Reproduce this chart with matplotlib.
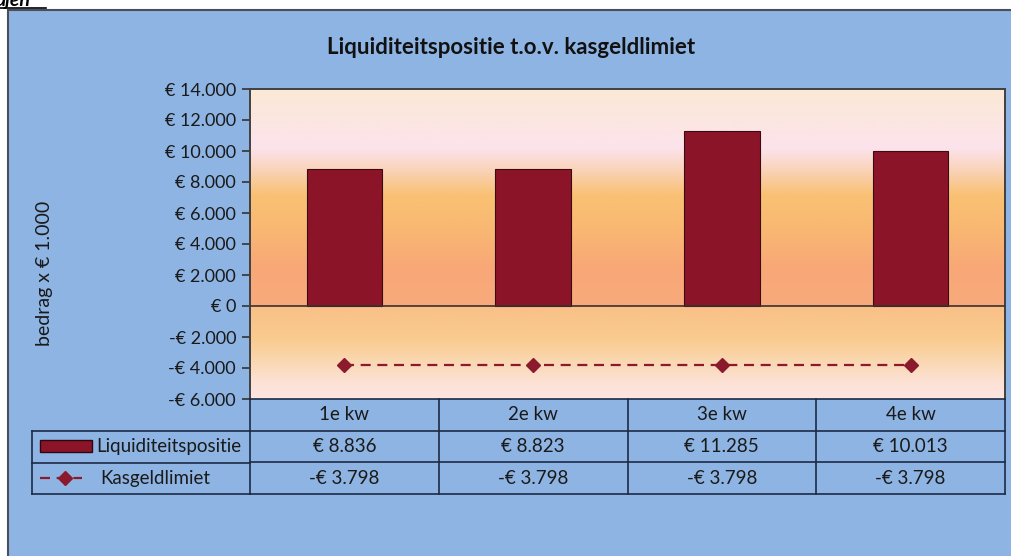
import numpy as np
import matplotlib
matplotlib.use("Agg")
import matplotlib.pyplot as plt
from matplotlib.colors import LinearSegmentedColormap
from matplotlib.patches import Rectangle
from matplotlib.lines import Line2D

# ---------------- data ----------------
categories = ["1e kw", "2e kw", "3e kw", "4e kw"]
liquiditeit = [8836, 8823, 11285, 10013]
kasgeld = [-3798, -3798, -3798, -3798]
series_names = ["Liquiditeitspositie", "Kasgeldlimiet"]
y_ticks = [-6000, -4000, -2000, 0, 2000, 4000, 6000, 8000, 10000, 12000, 14000]

def euro(v):
    s = f"{abs(v):,}".replace(",", ".")
    return ("-€ " if v < 0 else "€ ") + s

# ---------------- style ----------------
FONT = ["Lato", "DejaVu Sans"]
plt.rcParams["font.family"] = FONT
BLUE = "#8EB4E3"
BAR = "#8C1428"
LINE = "#8B1A2D"
GRID = "#1C2A44"
TXT = "#1A1A1A"
FS = 13.5

W, H = 1011, 556
fig = plt.figure(figsize=(W / 100, H / 100), dpi=100)
fig.patch.set_facecolor("white")

def fx(px):
    return px / W

def fy(py):
    return 1 - py / H

# chart background
bg = fig.add_axes([0, 0, 1, 1])
bg.set_xlim(0, W)
bg.set_ylim(H, 0)
bg.axis("off")
bg.add_patch(Rectangle((8, 10), W, H, facecolor=BLUE, edgecolor="#4A4F58", lw=1.5))
bg.text(-4, 6, "ajen", fontsize=14, style="italic", fontweight="bold",
        color="black", va="baseline", ha="left")
bg.plot([0, 46], [8, 8], color="black", lw=1.2)

# ---------------- plot area ----------------
L, R, T, B = 250, 1005, 89, 399
ax = fig.add_axes([fx(L), fy(B), fx(R) - fx(L), fy(T) - fy(B)])

upper = LinearSegmentedColormap.from_list("up", [
    (0.00, "#FBE9D5"), (0.15, "#FCE6E2"), (0.27, "#FCE3EC"), (0.37, "#FAD3BA"),
    (0.49, "#F9C173"), (0.63, "#F9B972"), (0.82, "#F8A877"), (1.00, "#F9AA7C")])
lower = LinearSegmentedColormap.from_list("lo", [
    (0.00, "#F9C088"), (0.35, "#F9CB8E"), (0.60, "#FAD8B2"), (0.80, "#FCE1D3"),
    (1.00, "#FDE5E2")])
grad = np.linspace(0, 1, 256).reshape(-1, 1)
ax.imshow(grad, cmap=upper, extent=(-0.5, 3.5, 0, 14000), aspect="auto",
          origin="upper", zorder=0, interpolation="bilinear")
ax.imshow(grad, cmap=lower, extent=(-0.5, 3.5, -6000, 0), aspect="auto",
          origin="upper", zorder=0, interpolation="bilinear")
ax.set_xlim(-0.5, 3.5)
ax.set_ylim(-6000, 14000)

x = np.arange(len(categories))
ax.bar(x, liquiditeit, width=0.4, color=BAR, edgecolor="#3A0B12", lw=0.8, zorder=2)
ax.axhline(0, color="#3A3030", lw=1.2, zorder=3)
ax.plot(x, kasgeld, color=LINE, lw=1.6, ls=(0, (4.5, 3.0)), marker="D",
        markersize=7, markerfacecolor=LINE, markeredgecolor=LINE, zorder=4)

ax.set_yticks(y_ticks)
ax.set_yticklabels([euro(v) for v in y_ticks], fontsize=13, color=TXT)
ax.set_xticks([])
ax.tick_params(axis="y", direction="out", length=6, width=1.2, color="#333333", pad=4)
for side in ["left", "top", "right"]:
    ax.spines[side].set_color("#404040")
    ax.spines[side].set_linewidth(1.4)
ax.spines["bottom"].set_visible(False)

fig.text(fx(45), fy(273), "bedrag x € 1.000", rotation=90, fontsize=14,
         color=TXT, ha="center", va="center")
fig.text(fx(511), fy(48), "Liquiditeitspositie t.o.v. kasgeldlimiet",
         fontsize=16, fontweight="bold", color="#111111", ha="center", va="center")

# ---------------- data table ----------------
TB = 494
tax = fig.add_axes([fx(L), fy(TB), fx(R) - fx(L), fy(B) - fy(TB)], sharex=ax)
tax.set_ylim(3, 0)
tax.axis("off")
lw = 1.2
for yy in (0, 1, 2, 3):
    tax.plot([-0.5, 3.5], [yy, yy], color=GRID, lw=lw, clip_on=False)
for xx in np.arange(-0.5, len(categories), 1.0):
    tax.plot([xx, xx], [0, 3], color=GRID, lw=lw, clip_on=False)
for i, c in enumerate(categories):
    tax.text(i, 0.5, c, ha="center", va="center", fontsize=FS, color=TXT)
    tax.text(i, 1.5, euro(liquiditeit[i]), ha="center", va="center", fontsize=FS, color=TXT)
    tax.text(i, 2.5, euro(kasgeld[i]), ha="center", va="center", fontsize=FS, color=TXT)

# legend column
LL = 32
lax = fig.add_axes([fx(LL), fy(TB), fx(L) - fx(LL), fy(431) - fy(TB)])
lax.set_xlim(0, L - LL)
lax.set_ylim(2, 0)
lax.axis("off")
for yy in (0, 1, 2):
    lax.plot([0, L - LL], [yy, yy], color=GRID, lw=lw, clip_on=False)
lax.plot([0, 0], [0, 2], color=GRID, lw=lw, clip_on=False)
lax.add_patch(Rectangle((8, 0.28), 52, 0.38, facecolor=BAR, edgecolor="#2A0A0F", lw=1))
lax.text(64, 0.5, series_names[0], ha="left", va="center", fontsize=FS, color=TXT)
lax.add_line(Line2D([8, 50], [1.5, 1.5], color=LINE, lw=1.6, ls=(0, (4.5, 3.0))))
lax.plot([33], [1.5], marker="D", markersize=7, color=LINE)
lax.text(68, 1.5, series_names[1], ha="left", va="center", fontsize=FS, color=TXT)

fig.savefig("out.png", dpi=100, facecolor="white")
